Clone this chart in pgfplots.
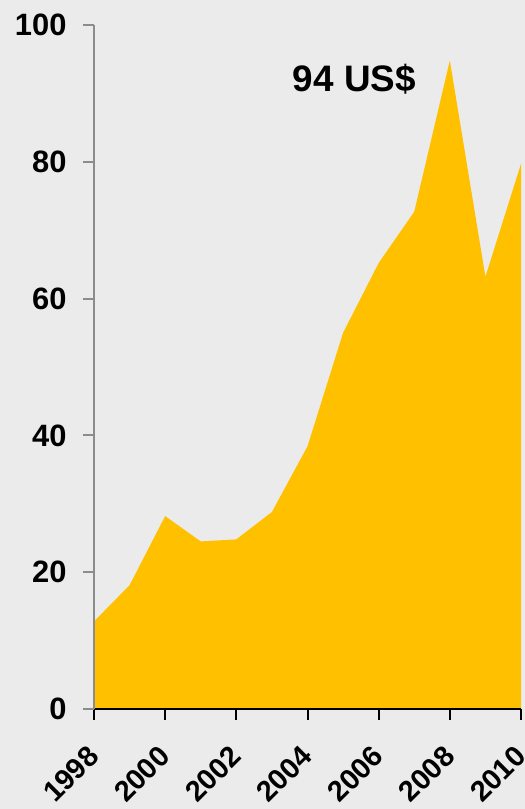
\documentclass[border=0pt]{standalone}
\usepackage{pgfplots}
\pgfplotsset{compat=1.18}
\usepackage{fontspec}
\setmainfont{Liberation Sans}
\definecolor{bg}{HTML}{EBEBEB}
\definecolor{gold}{HTML}{FFC000}
\definecolor{axgray}{HTML}{8C8C8C}
\begin{document}
\begin{tikzpicture}
\fill[bg] (-94bp,-100bp) rectangle (431bp,709bp);
\begin{axis}[
  at={(0,0)}, anchor=south west,
  scale only axis, width=427bp, height=684bp,
  xmin=1998, xmax=2010, ymin=0, ymax=100,
  axis lines*=left,
  x axis line style={black, line width=2.5bp},
  y axis line style={axgray, line width=2bp},
  xtick={1998,2000,...,2010},
  ytick={0,20,...,100},
  tick align=outside,
  x tick style={black, line width=2bp},
  y tick style={axgray, line width=2bp},
  major tick length=11bp,
  /pgf/number format/assume math mode=true,
  /pgf/number format/1000 sep={},
  tick label style={font=\fontsize{31}{31}\selectfont\bfseries},
  xticklabel style={xshift=2bp, yshift=-29bp, rotate=45, anchor=east, font=\fontsize{29}{29}\selectfont\bfseries},
  yticklabel style={xshift=-13bp},
  axis on top,
  clip=false,
]
\addplot[fill=gold, draw=none] coordinates {
(1998,12.8) (1999,18.1) (2000,28.2) (2001,24.5) (2002,24.8) (2003,28.8)
(2004,38.4) (2005,55.0) (2006,65.2) (2007,72.7) (2008,94.8) (2009,63.2) (2010,79.7)
} \closedcycle;
\node[font=\fontsize{37}{37}\selectfont\bfseries] at (axis cs:2005.32,92.1) {94 US\$};
\end{axis}
\pgfresetboundingbox
\useasboundingbox (-94bp,-100bp) rectangle (431bp,709bp);
\end{tikzpicture}
\end{document}
